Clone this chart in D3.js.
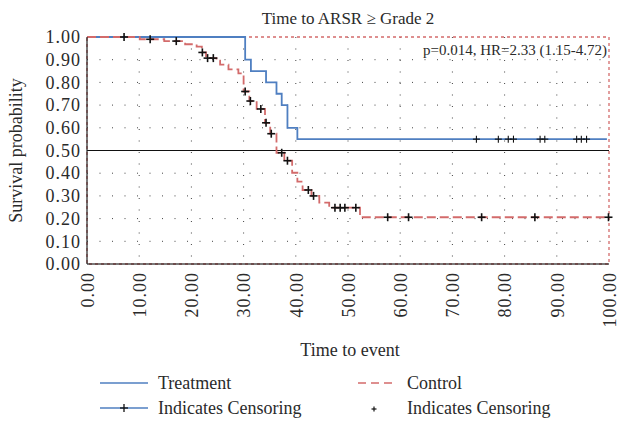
<!DOCTYPE html>
<html>
<head>
<meta charset="utf-8">
<script src="https://cdn.jsdelivr.net/npm/d3@7"></script>
<style>
  body { margin: 0; background: #fff; }
  text { font-family: "Liberation Serif", "DejaVu Serif", serif; fill: #2a2a2a; }
</style>
</head>
<body>
<svg id="chart" width="621" height="425"></svg>
<script>
// step times and survival after each step
var treatmentSteps = [[0, 1.0], [30.3, 0.90], [31.4, 0.85], [34.3, 0.80], [36.3, 0.75],
                      [37.3, 0.70], [38.4, 0.60], [40.3, 0.55], [99.6, 0.55]];
var treatmentCensor = [74.6, 78.8, 80.7, 81.7, 86.8, 87.7, 93.8, 94.7, 95.7];

var controlSteps = [[0, 1.0], [10.1, 0.99], [14.8, 0.982], [18.8, 0.968], [21.0, 0.958],
                    [22.0, 0.932], [22.8, 0.907], [24.8, 0.896], [25.5, 0.878], [27.1, 0.857],
                    [29.0, 0.84], [30.0, 0.76], [31.1, 0.718], [32.5, 0.683], [34.1, 0.622],
                    [35.1, 0.574], [36.3, 0.49], [37.8, 0.455], [39.3, 0.402], [40.3, 0.363],
                    [41.3, 0.326], [43.0, 0.30], [44.5, 0.27], [46.4, 0.248], [52.3, 0.206],
                    [100, 0.206]];
var controlCensor = [7.1, 12.1, 17.1, 22.1, 23.1, 24.2, 30.3, 31.3, 33.3, 34.3, 35.3, 37.3,
                     38.4, 42.4, 43.4, 47.5, 48.5, 49.4, 51.5, 57.6, 61.6, 75.6, 85.8, 99.9];

var yTicks = [0, 0.1, 0.2, 0.3, 0.4, 0.5, 0.6, 0.7, 0.8, 0.9, 1.0];
var xTicks = [0, 10, 20, 30, 40, 50, 60, 70, 80, 90, 100];

var blue = "#4f7fc1", red = "#d36b6b";

var svg = d3.select("#chart"),
    margin = {top: 37, right: 12, bottom: 161, left: 87},
    width = 621 - margin.left - margin.right,
    height = 425 - margin.top - margin.bottom;

var x = d3.scaleLinear().domain([0, 100]).range([0, width]);
var y = d3.scaleLinear().domain([0, 1]).range([height, 0]);

var g = svg.append("g").attr("transform", "translate(" + margin.left + "," + margin.top + ")");

// dotted grid
g.append("g").selectAll("line")
    .data(yTicks.slice(1, -1))
  .enter().append("line")
    .attr("x1", 0).attr("x2", width)
    .attr("y1", function(d) { return y(d); })
    .attr("y2", function(d) { return y(d); })
    .attr("stroke", "#444").attr("stroke-width", 1)
    .attr("stroke-dasharray", "1,11.5");

g.append("g").selectAll("line")
    .data(xTicks.slice(1, -1))
  .enter().append("line")
    .attr("x1", function(d) { return x(d); })
    .attr("x2", function(d) { return x(d); })
    .attr("y1", 0).attr("y2", height)
    .attr("stroke", "#444").attr("stroke-width", 1)
    .attr("stroke-dasharray", "1,10.5");

// frame: red dotted, black left and bottom
g.append("rect")
    .attr("x", 0).attr("y", 0).attr("width", width).attr("height", height)
    .attr("fill", "none").attr("stroke", red).attr("stroke-width", 1.3)
    .attr("stroke-dasharray", "3,3");

// median line
g.append("line")
    .attr("x1", 0).attr("x2", width)
    .attr("y1", y(0.5)).attr("y2", y(0.5))
    .attr("stroke", "#111").attr("stroke-width", 1.2);

var line = d3.line()
    .x(function(d) { return x(d[0]); })
    .y(function(d) { return y(d[1]); })
    .curve(d3.curveStepAfter);

g.append("path").datum(treatmentSteps)
    .attr("d", line).attr("fill", "none")
    .attr("stroke", blue).attr("stroke-width", 1.8);

g.append("path").datum(controlSteps)
    .attr("d", line).attr("fill", "none")
    .attr("stroke", red).attr("stroke-width", 1.8)
    .attr("stroke-dasharray", "9,4");

// survival value at a time from the step list
function survAt(steps, t) {
  var s = steps[0][1];
  steps.forEach(function(p) { if (p[0] <= t) s = p[1]; });
  return s;
}

function plus(sel, size, w) {
  sel.append("line").attr("x1", -size).attr("x2", size).attr("y1", 0).attr("y2", 0)
      .attr("stroke", "#111").attr("stroke-width", w);
  sel.append("line").attr("x1", 0).attr("x2", 0).attr("y1", -size).attr("y2", size)
      .attr("stroke", "#111").attr("stroke-width", w);
}

g.append("g").selectAll("g")
    .data(treatmentCensor)
  .enter().append("g")
    .attr("transform", function(d) { return "translate(" + x(d) + "," + y(survAt(treatmentSteps, d)) + ")"; })
    .call(plus, 3.5, 1.1);

g.append("g").selectAll("g")
    .data(controlCensor)
  .enter().append("g")
    .attr("transform", function(d) { return "translate(" + x(d) + "," + y(survAt(controlSteps, d)) + ")"; })
    .call(plus, 4, 1.6);

// black axis lines left and bottom
g.append("line").attr("x1", 0).attr("x2", 0).attr("y1", 0).attr("y2", height)
    .attr("stroke", "#222").attr("stroke-width", 1.5).attr("opacity", 0.8);
g.append("line").attr("x1", 0).attr("x2", width).attr("y1", height).attr("y2", height)
    .attr("stroke", "#222").attr("stroke-width", 1.5).attr("opacity", 0.8);

// axes
var yAxis = g.append("g")
    .call(d3.axisLeft(y).tickValues(yTicks).tickFormat(d3.format(".2f")).tickSize(0).tickPadding(6));
yAxis.select(".domain").remove();
yAxis.selectAll("text")
    .style("font-size", "18px").style("font-family", "Liberation Serif")
    .style("letter-spacing", "1px").attr("fill", "#2a2a2a");

var xAxis = g.append("g").attr("transform", "translate(0," + height + ")")
    .call(d3.axisBottom(x).tickValues(xTicks).tickFormat(d3.format(".2f")).tickSize(0));
xAxis.select(".domain").remove();
xAxis.selectAll("text")
    .style("font-size", "18px").style("font-family", "Liberation Serif")
    .style("letter-spacing", "1px").attr("fill", "#2a2a2a")
    .attr("text-anchor", "end")
    .attr("transform", "rotate(-90)")
    .attr("x", -8).attr("y", 0).attr("dy", "0.35em");

// titles
svg.append("text")
    .attr("x", margin.left + width / 2).attr("y", 24)
    .attr("text-anchor", "middle").style("font-size", "17px")
    .text("Time to ARSR \u2265 Grade 2");

svg.append("text")
    .attr("transform", "translate(22," + (margin.top + height / 2) + ") rotate(-90)")
    .attr("text-anchor", "middle").style("font-size", "18px")
    .text("Survival probability");

svg.append("text")
    .attr("x", margin.left + width / 2 + 2).attr("y", 356)
    .attr("text-anchor", "middle").style("font-size", "18px")
    .text("Time to event");

g.append("text")
    .attr("x", width - 2).attr("y", 18)
    .attr("text-anchor", "end").style("font-size", "15px")
    .text("p=0.014, HR=2.33 (1.15-4.72)");

// legend
var leg = svg.append("g");
leg.append("line").attr("x1", 100).attr("x2", 148).attr("y1", 383).attr("y2", 383)
    .attr("stroke", blue).attr("stroke-width", 1.5);
leg.append("text").attr("x", 158).attr("y", 389).style("font-size", "18px").text("Treatment");
leg.append("line").attr("x1", 100).attr("x2", 148).attr("y1", 408).attr("y2", 408)
    .attr("stroke", blue).attr("stroke-width", 1.5);
leg.append("g").attr("transform", "translate(124,408)").call(plus, 4, 1.3);
leg.append("text").attr("x", 158).attr("y", 414).style("font-size", "18px").text("Indicates Censoring");

leg.append("line").attr("x1", 358).attr("x2", 394).attr("y1", 383).attr("y2", 383)
    .attr("stroke", red).attr("stroke-width", 1.5).attr("stroke-dasharray", "8,5");
leg.append("text").attr("x", 407).attr("y", 389).style("font-size", "18px").text("Control");
leg.append("g").attr("transform", "translate(374,409)").call(plus, 2.5, 1.2);
leg.append("text").attr("x", 407).attr("y", 414).style("font-size", "18px").text("Indicates Censoring");
</script>
</body>
</html>
